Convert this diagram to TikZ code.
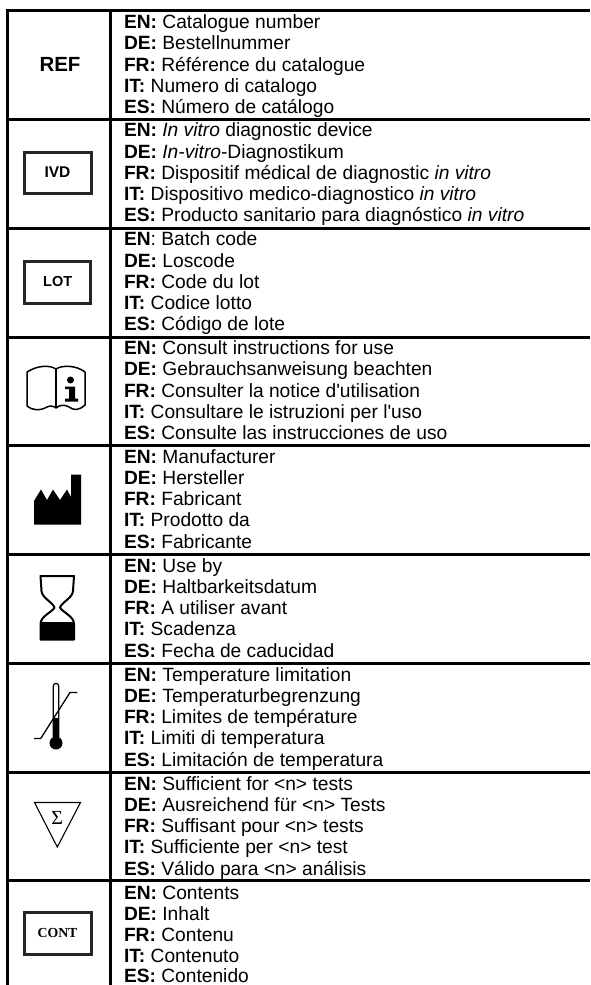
\documentclass[tikz,border=0pt]{standalone}
\usepackage{fontspec}
\setmainfont[Ligatures=TeXOff]{Liberation Sans}
\newfontfamily\symserif{Liberation Serif}
\newcommand{\langline}[4]{\node[rowline] (#1) at (124,#2) {\textbf{#3}#4};}
\tikzset{
  rowline/.style={anchor=base west,inner sep=0pt,outer sep=0pt,font=\fontsize{19.2}{20}\selectfont},
  rule/.style={line width=3pt,black},
  symbolbox/.style={line width=3pt,draw=black!85,fill=white},
}
\begin{document}
\begin{tikzpicture}[x=1pt,y=-1pt]
\useasboundingbox (0,0) rectangle (590,985);
\fill[white] (0,0) rectangle (590,985);
% rules
\foreach \yy in {10.5,119,228,337,445.5,554,663,772,880.5}{\draw[rule] (5.5,\yy) -- (590,\yy);}
\draw[rule] (7,9) -- (7,985);
\draw[rule] (110,9) -- (110,985);
% REF
\node[inner sep=0pt,font=\fontsize{20.5}{22}\selectfont\bfseries] (ref) at (60,64) {REF};
\langline{a1}{28}{EN:}{ Catalogue number}
\langline{a2}{49.7}{DE:}{ Bestellnummer}
\langline{a3}{71}{FR:}{ Référence du catalogue}
\langline{a4}{92.3}{IT:}{ Numero di catalogo}
\langline{a5}{113.5}{ES:}{ Número de catálogo}
% IVD
\node[symbolbox,minimum width=67pt,minimum height=41pt,inner sep=0pt,font=\fontsize{15.5}{16}\selectfont\bfseries] (ivd) at (57.5,172.5) {IVD};
\langline{b1}{136.7}{EN:}{ \textit{In vitro} diagnostic device}
\langline{b2}{158}{DE:}{ \textit{In-vitro}-Diagnostikum}
\langline{b3}{179.2}{FR:}{ Dispositif médical de diagnostic \textit{in vitro}}
\langline{b4}{200.5}{IT:}{ Dispositivo medico-diagnostico \textit{in vitro}}
\langline{b5}{221.8}{ES:}{ Producto sanitario para diagnóstico \textit{in vitro}}
% LOT
\node[symbolbox,minimum width=66pt,minimum height=42pt,inner sep=0pt,font=\fontsize{14.5}{16}\selectfont\bfseries] (lot) at (57.7,282) {LOT};
\langline{c1}{245.7}{EN}{: Batch code}
\langline{c2}{267}{DE:}{ Loscode}
\langline{c3}{288.2}{FR:}{ Code du lot}
\langline{c4}{309.5}{IT:}{ Codice lotto}
\langline{c5}{330.8}{ES:}{ Código de lote}
% book
\draw[line width=1.5pt,black,line join=round] (56,369) .. controls (50,365) and (38,365) .. (27,372) -- (27,406) .. controls (32,410.5) and (40,411) .. (47,407) .. controls (50,405.5) and (54,406) .. (56,408) .. controls (60,404.5) and (65,404.5) .. (69,407) .. controls (74,411) and (80,410) .. (85,405) -- (85,372) .. controls (76,365) and (62,365) .. (56,369) -- cycle;
\draw[line width=1.2pt,black] (56,369) -- (56,408);
\fill[black] (70.5,380) circle (3.5);
\fill[black] (65,386.5) -- (75,386.5) -- (75,398.5) -- (78,398.5) -- (78,401.5) -- (65,401.5) -- (65,398.5) -- (69,398.5) -- (69,389) -- (65,389) -- cycle;
\langline{d1}{354.5}{EN:}{ Consult instructions for use}
\langline{d2}{375.8}{DE:}{ Gebrauchsanweisung beachten}
\langline{d3}{397}{FR:}{ Consulter la notice d'utilisation}
\langline{d4}{418.3}{IT:}{ Consultare le istruzioni per l'uso}
\langline{d5}{439.6}{ES:}{ Consulte las instrucciones de uso}
% factory
\fill[black] (34,524.5) -- (34,501) -- (41,489.5) -- (47,500) -- (53,489.5) -- (60,500) -- (67,489.5) -- (71,497) -- (71,474.5) -- (81,474.5) -- (81,524.5) -- cycle;
\langline{e1}{463}{EN:}{ Manufacturer}
\langline{e2}{484.3}{DE:}{ Hersteller}
\langline{e3}{505.5}{FR:}{ Fabricant}
\langline{e4}{526.8}{IT:}{ Prodotto da}
\langline{e5}{548}{ES:}{ Fabricante}
% hourglass
\draw[line width=2pt,black,line join=round,fill=white] (40.5,576) -- (74,576) -- (73,591) .. controls (72.5,598) and (62,602) .. (60,607.5) .. controls (62,612) and (74,616) .. (74,624) -- (74,639.5) -- (40.5,639.5) -- (40.5,624) .. controls (40.5,616) and (52.5,612) .. (54.5,607.5) .. controls (52.5,602) and (42,598) .. (41.5,591) -- cycle;
\fill[black] (40.5,621.5) -- (74,621.5) -- (74,639.5) -- (40.5,639.5) -- cycle;
\langline{f1}{572}{EN:}{ Use by}
\langline{f2}{593.3}{DE:}{ Haltbarkeitsdatum}
\langline{f3}{614.5}{FR:}{ A utiliser avant}
\langline{f4}{635.8}{IT:}{ Scadenza}
\langline{f5}{657}{ES:}{ Fecha de caducidad}
% thermometer
\draw[line width=1.2pt,black] (53.2,737) -- (53.2,686.5) .. controls (53.2,682.3) and (58.8,682.3) .. (58.8,686.5) -- (58.8,737);
\fill[black] (52.6,718) rectangle (59.4,740);
\fill[black] (56,743) circle (6.5);
\draw[line width=1.3pt,black] (34,738.5) -- (40.7,738.5) -- (70,692.5) -- (77.3,692.5);
\langline{g1}{681}{EN:}{ Temperature limitation}
\langline{g2}{702.3}{DE:}{ Temperaturbegrenzung}
\langline{g3}{723.5}{FR:}{ Limites de température}
\langline{g4}{744.8}{IT:}{ Limiti di temperatura}
\langline{g5}{766}{ES:}{ Limitación de temperatura}
% sigma
\draw[line width=1.1pt,black,line join=miter] (34.5,802.5) -- (80.5,802.5) -- (57.3,847) -- cycle;
\node[inner sep=0pt,font=\symserif\fontsize{20}{22}\selectfont] (sigma) at (57.3,818) {Σ};
\langline{h1}{790}{EN:}{ Sufficient for <n> tests}
\langline{h2}{811.3}{DE:}{ Ausreichend für <n> Tests}
\langline{h3}{832.5}{FR:}{ Suffisant pour <n> tests}
\langline{h4}{853.8}{IT:}{ Sufficiente per <n> test}
\langline{h5}{875}{ES:}{ Válido para <n> análisis}
% CONT
\node[symbolbox,minimum width=67pt,minimum height=42pt,inner sep=0pt,font=\symserif\fontsize{13.8}{14}\selectfont\bfseries] (cont) at (57.5,933) {CONT};
\langline{i1}{899.5}{EN:}{ Contents}
\langline{i2}{920.2}{DE:}{ Inhalt}
\langline{i3}{941.3}{FR:}{ Contenu}
\langline{i4}{962}{IT:}{ Contenuto}
\langline{i5}{982.5}{ES:}{ Contenido}
\end{tikzpicture}
\end{document}
